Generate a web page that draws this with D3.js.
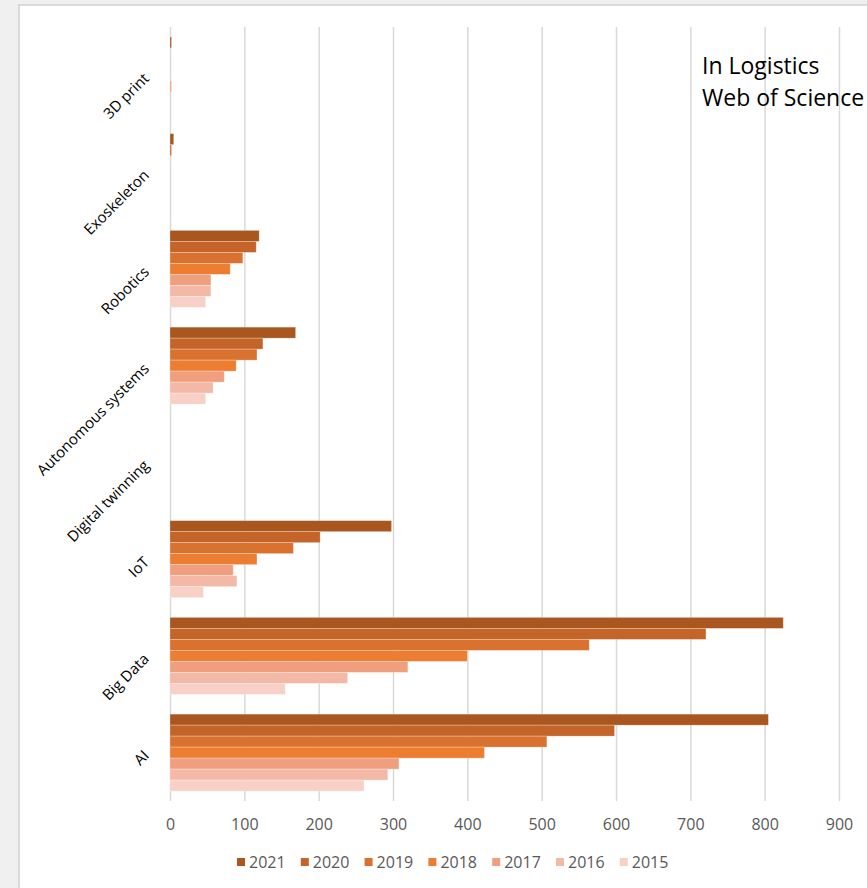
<!DOCTYPE html>
<html>
<head>
<meta charset="utf-8">
<script src="https://cdn.jsdelivr.net/npm/d3@7"></script>
<style>
  body { margin: 0; background: #f0f0f0; }
  svg { display: block; font-family: "Open Sans", sans-serif; }
</style>
</head>
<body>
<div id="chart"></div>
<script>
// categories top to bottom as they appear
const categories = ["3D print", "Exoskeleton", "Robotics", "Autonomous systems",
                    "Digital twinning", "IoT", "Big Data", "AI"];
const years = ["2021", "2020", "2019", "2018", "2017", "2016", "2015"];

const v2021 = [2, 5, 120, 169, 0, 298, 825, 805];
const v2020 = [0, 2, 116, 125, 0, 202, 721, 598];
const v2019 = [0, 0, 98, 117, 0, 166, 564, 507];
const v2018 = [0, 0, 81, 89, 0, 117, 400, 423];
const v2017 = [2, 0, 55, 73, 0, 85, 320, 308];
const v2016 = [0, 0, 55, 58, 0, 90, 239, 293];
const v2015 = [0, 0, 48, 48, 0, 45, 155, 261];

const xTicks = [0, 100, 200, 300, 400, 500, 600, 700, 800, 900];
const titleLines = ["In Logistics", "Web of Science"];

const seriesValues = [v2021, v2020, v2019, v2018, v2017, v2016, v2015];
const colors = ["#a9561f", "#c46428", "#d9722e", "#ed7d31", "#f09f7e", "#f4b9a6", "#f8d0c5"];

const W = 867, H = 888;
const plot = {left: 170, right: 839, top: 27, bottom: 801};

const svg = d3.select("#chart").append("svg")
  .attr("width", W)
  .attr("height", H);

// white sheet
svg.append("rect")
  .attr("x", 19).attr("y", 5)
  .attr("width", W).attr("height", H)
  .attr("fill", "#fff")
  .attr("stroke", "#d0d0d0")
  .attr("stroke-width", 1.5);

const x = d3.scaleLinear().domain([0, 900]).range([plot.left, plot.right]);
const y = d3.scaleBand().domain(categories).range([plot.top, plot.bottom]);
const yInner = d3.scaleBand().domain(years)
  .range([0, y.bandwidth()]).paddingOuter(0.9);

// gridlines
svg.append("g")
  .attr("transform", `translate(0,${plot.top})`)
  .call(d3.axisBottom(x).tickValues(xTicks).tickSize(plot.bottom - plot.top).tickFormat(""))
  .call(g => g.select(".domain").remove())
  .call(g => g.selectAll("line").attr("stroke", "#d9d9d9").attr("stroke-width", 1.5));

// tick labels
svg.append("g")
  .attr("transform", `translate(0,${plot.bottom})`)
  .call(d3.axisBottom(x).tickValues(xTicks).tickSize(0).tickPadding(18))
  .call(g => g.select(".domain").remove())
  .call(g => g.selectAll("text")
    .attr("fill", "#595959")
    .style("font-size", "16px")
    .style("font-family", "'Open Sans', sans-serif"));

// bars
const rows = [];
years.forEach((yr, si) => {
  categories.forEach((c, ci) => {
    rows.push({year: yr, cat: c, value: seriesValues[si][ci], color: colors[si]});
  });
});

svg.append("g")
  .selectAll("rect")
  .data(rows.filter(d => d.value > 0))
  .join("rect")
    .attr("x", x(0))
    .attr("y", d => y(d.cat) + yInner(d.year))
    .attr("width", d => x(d.value) - x(0))
    .attr("height", yInner.bandwidth())
    .attr("fill", d => d.color)
    .attr("stroke", "#fff")
    .attr("stroke-opacity", 0.35)
    .attr("stroke-width", 0.75);

// category labels, rotated
svg.append("g")
  .selectAll("text")
  .data(categories)
  .join("text")
    .attr("transform", d => `translate(150,${y(d) + y.bandwidth() / 2 + 4}) rotate(-45)`)
    .attr("text-anchor", "end")
    .attr("fill", "#000")
    .style("font-size", "15px")
    .text(d => d);

// title block
svg.append("g")
  .selectAll("text")
  .data(titleLines)
  .join("text")
    .attr("x", 702)
    .attr("y", (d, i) => 74 + i * 32)
    .attr("fill", "#000")
    .style("font-size", "23px")
    .text(d => d);

// legend
const legend = svg.append("g")
  .attr("transform", "translate(237,862)");

const item = legend.selectAll("g")
  .data(years)
  .join("g")
    .attr("transform", (d, i) => `translate(${i * 63.8},0)`);

item.append("rect")
  .attr("x", 0).attr("y", -4)
  .attr("width", 8).attr("height", 8)
  .attr("fill", (d, i) => colors[i]);

item.append("text")
  .attr("x", 12)
  .attr("y", 6)
  .attr("fill", "#595959")
  .style("font-size", "16px")
  .text(d => d);
</script>
</body>
</html>
